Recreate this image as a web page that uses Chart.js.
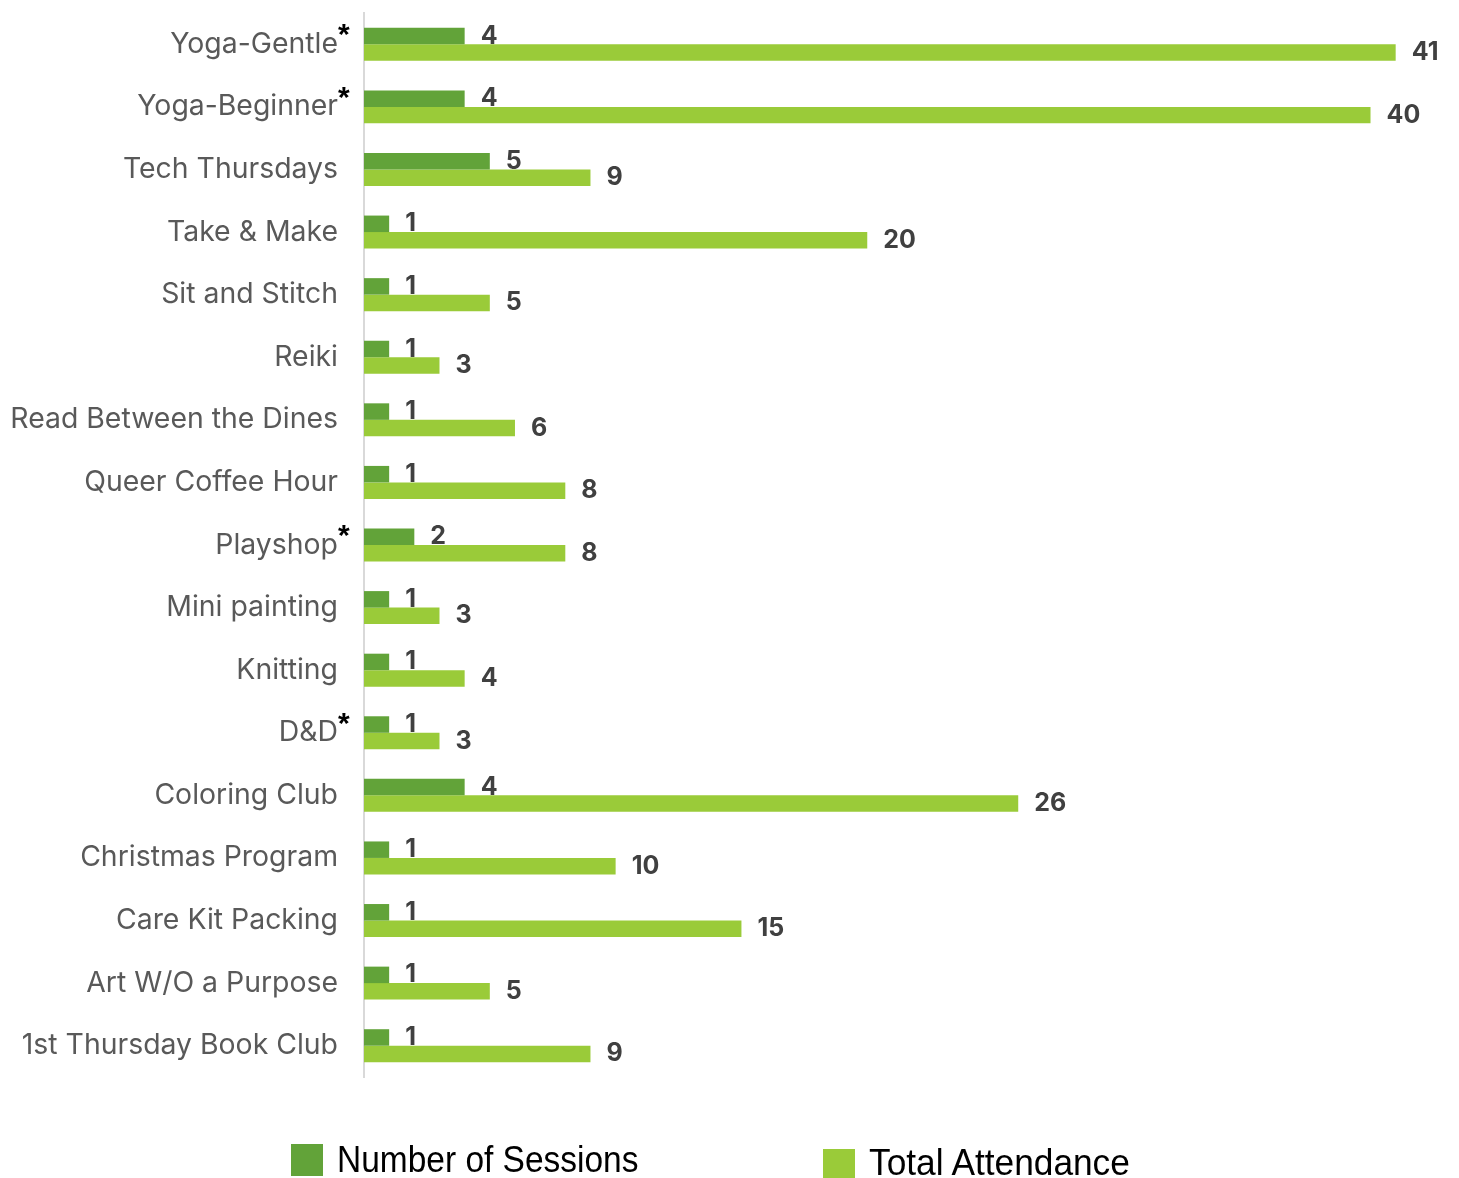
<html><head>
<meta charset="UTF-8">
<title>Program Sessions and Attendance</title>
<script src="https://cdn.jsdelivr.net/npm/chart.js"></script>
<style>
* {
  margin: 0;
  padding: 0;
  box-sizing: border-box;
}

body {
  background: #fff;
}

.wrap {
  position: relative;
  width: 1459px;
  height: 1178px;
  overflow: hidden;
}

.legend-item {
  position: absolute;
  display: flex;
  align-items: center;
  font-family: 'Liberation Sans', Arial, sans-serif;
  font-size: 36px;
  line-height: 1;
  color: #000;
  white-space: nowrap;
}

.legend-item .swatch {
  width: 32px;
  height: 32px;
  margin-right: 14px;
}

.legend-item .text {
  display: inline-block;
  transform: scaleX(0.93);
  transform-origin: left center;
}
</style>
</head>
<body>
<div class="wrap">
  <canvas id="programChart" width="1459" height="1178"></canvas>
  <div class="legend-item" style="left:291px; top:1142px;">
    <span class="swatch" style="background:#62A339"></span><span class="text">Number of Sessions</span>
  </div>
  <div class="legend-item" style="left:823px; top:1147px;">
    <span class="swatch" style="background:#9ACB39"></span><span class="text" style="position:relative; top:-2px; transform:scaleX(0.98);">Total Attendance</span>
  </div>
</div>

<script>
const programs = [
  'Yoga-Gentle', 'Yoga-Beginner', 'Tech Thursdays', 'Take & Make', 'Sit and Stitch',
  'Reiki', 'Read Between the Dines', 'Queer Coffee Hour', 'Playshop', 'Mini painting',
  'Knitting', 'D&D', 'Coloring Club', 'Christmas Program', 'Care Kit Packing',
  'Art W/O a Purpose', '1st Thursday Book Club'
];
// programs flagged with an asterisk
const starred = ['Yoga-Gentle', 'Yoga-Beginner', 'Playshop', 'D&D'];

const sessions   = [4, 4, 5, 1, 1, 1, 1, 1, 2, 1, 1, 1, 4, 1, 1, 1, 1];
const attendance = [41, 40, 9, 20, 5, 3, 6, 8, 8, 3, 4, 3, 26, 10, 15, 5, 9];

const TICK_FONT = '28.4px Inter';
const TICK_PAD = 26;

// bold numbers at the end of every bar
const valueLabels = {
  id: 'valueLabels',
  afterDatasetsDraw(chart) {
    const ctx = chart.ctx;
    ctx.save();
    ctx.font = 'bold 25px Inter';
    ctx.fillStyle = '#404040';
    ctx.textAlign = 'left';
    ctx.textBaseline = 'middle';
    chart.data.datasets.forEach((ds, i) => {
      chart.getDatasetMeta(i).data.forEach((bar, j) => {
        ctx.fillText(ds.data[j], bar.x + 16, bar.y);
      });
    });
    ctx.restore();
  }
};

// superscript asterisk after some category names
const asterisks = {
  id: 'asterisks',
  afterDraw(chart) {
    const ctx = chart.ctx;
    const y = chart.scales.y;
    ctx.save();
    const labelRight = y.right - TICK_PAD;
    ctx.font = 'bold 30px "Liberation Sans"';
    ctx.fillStyle = '#000';
    ctx.textAlign = 'left';
    ctx.textBaseline = 'alphabetic';
    programs.forEach((name, i) => {
      if (!starred.includes(name)) return;
      const cy = y.getPixelForValue(i);
      ctx.fillText('*', labelRight, cy);
    });
    ctx.restore();
  }
};

function drawChart() {
  const ctx = document.getElementById('programChart').getContext('2d');
  new Chart(ctx, {
    type: 'bar',
    data: {
      labels: programs,
      datasets: [{
        label: 'Number of Sessions',
        data: sessions,
        backgroundColor: '#62A339',
        barPercentage: 1,
        categoryPercentage: 0.527
      }, {
        label: 'Total Attendance',
        data: attendance,
        backgroundColor: '#9ACB39',
        barPercentage: 1,
        categoryPercentage: 0.527
      }]
    },
    options: {
      indexAxis: 'y',
      responsive: false,
      animation: false,
      layout: {
        padding: { top: 13, bottom: 101, right: 13, left: 0 }
      },
      plugins: {
        legend: { display: false },
        tooltip: { enabled: false }
      },
      scales: {
        x: {
          display: false,
          min: 0,
          max: 43
        },
        y: {
          afterFit(scale) {
            scale.width = 364;
            scale.paddingTop = 0;
            scale.paddingBottom = 0;
          },
          grid: { display: false, drawTicks: false },
          border: { display: true, color: '#D9D9D9', width: 2 },
          ticks: {
            padding: TICK_PAD,
            color: '#595959',
            font: { family: 'Inter', size: 28.4 }
          }
        }
      }
    },
    plugins: [valueLabels, asterisks]
  });
}

document.fonts.load(TICK_FONT).then(drawChart, drawChart);
</script>
</body></html>
